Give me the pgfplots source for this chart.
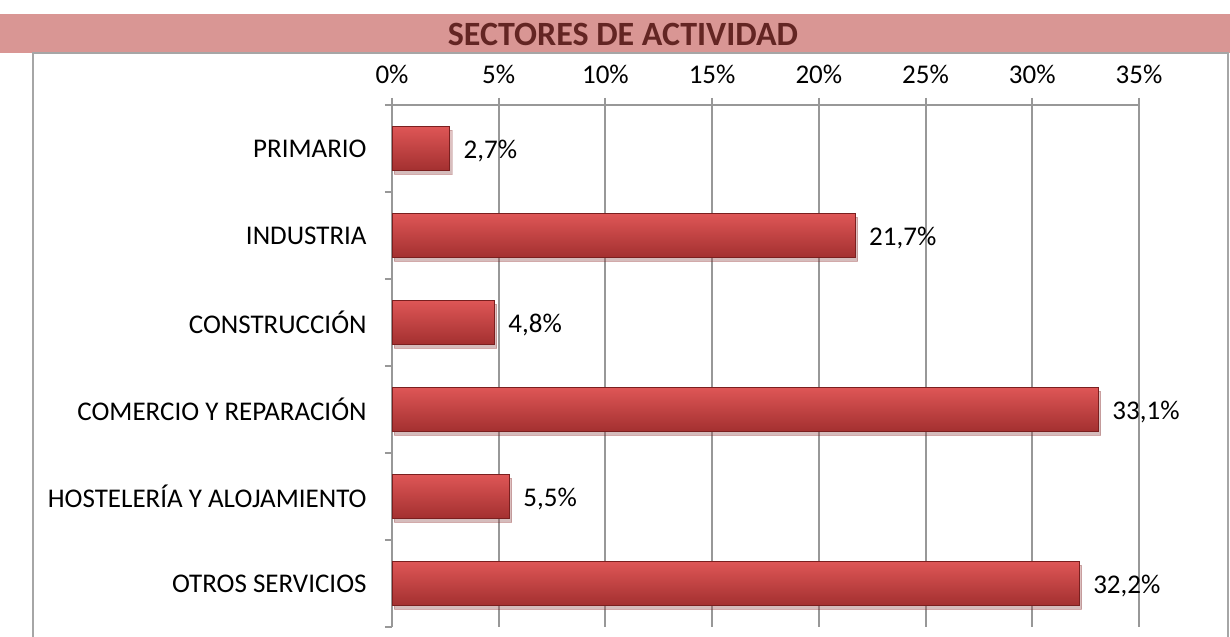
\documentclass[border=0pt]{standalone}
\usepackage{fontspec}
\setmainfont{Carlito}
\usepackage{pgfplots}
\pgfplotsset{compat=1.18}
\usetikzlibrary{shadows}
\definecolor{band}{HTML}{D99694}
\definecolor{titlec}{HTML}{632523}
\definecolor{gridc}{HTML}{989898}
\definecolor{framec}{HTML}{A6A6A6}
\definecolor{bartop}{HTML}{DE5656}
\definecolor{barmid}{HTML}{C83C3C}
\definecolor{barbot}{HTML}{A33030}
\definecolor{baredge}{HTML}{7A1F1F}
\newcommand{\lab}{\fontsize{13.5bp}{16bp}\selectfont}
\begin{document}
\begin{tikzpicture}
\path[use as bounding box] (0,0) rectangle (615bp,318.5bp);
\fill[band] (0,292bp) rectangle (615bp,311.5bp);
\node[font=\fontsize{17bp}{19bp}\selectfont\bfseries, text=titlec] at (311.5bp,301.5bp) {SECTORES DE ACTIVIDAD};
\draw[framec, line width=0.8bp] (16.5bp,0) -- (16.5bp,292bp) -- (614bp,292bp) -- (614bp,0);
\begin{axis}[
  at={(196bp,266bp)}, anchor=north west,
  width=373.5bp, height=261bp, scale only axis,
  xmin=0, xmax=35, ymin=-0.5, ymax=5.5,
  axis x line=top, axis y line=left,
  axis line style={-, draw=gridc, line width=1bp},
  xtick={0,5,...,35},
  xticklabels={0\%,5\%,10\%,15\%,20\%,25\%,30\%,35\%},
  ytick={0,...,5},
  yticklabels={OTROS SERVICIOS, HOSTELERÍA Y ALOJAMIENTO, COMERCIO Y REPARACIÓN, CONSTRUCCIÓN, INDUSTRIA, PRIMARIO},
  minor ytick={-0.5,0.5,...,5.5},
  tick align=outside,
  major tick length=3.5bp, minor tick length=3.5bp,
  x tick style={draw=gridc, line width=1bp},
  y tick style={draw=none},
  minor y tick style={draw=gridc, line width=1bp},
  xmajorgrids, major x grid style={draw=gridc, line width=1bp},
  tick label style={font=\lab, text=black},
  xticklabel style={inner sep=0pt, yshift=7bp},
  yticklabel style={inner sep=0pt, xshift=-9bp},
  clip=false,
  barstyle/.style={xbar, bar width=22bp, bar shift=0pt, draw=baredge, line width=0.4bp,
    top color=bartop, middle color=barmid, bottom color=barbot,
    drop shadow={shadow xshift=1.2bp, shadow yshift=-1.8bp, opacity=0.22},
    point meta=x,
    nodes near coords={\pgfmathprintnumber[fixed,fixed zerofill,precision=1,use comma,assume math mode=true]{\pgfplotspointmeta}\%},
    every node near coord/.append style={font=\lab, text=black, anchor=west, xshift=3.5bp, yshift=-1.3bp}},
]
\addplot[barstyle] coordinates {(2.7,5)};
\addplot[barstyle] coordinates {(21.7,4)};
\addplot[barstyle] coordinates {(4.8,3)};
\addplot[barstyle] coordinates {(33.1,2)};
\addplot[barstyle] coordinates {(5.5,1)};
\addplot[barstyle] coordinates {(32.2,0)};
\end{axis}
\end{tikzpicture}
\end{document}
